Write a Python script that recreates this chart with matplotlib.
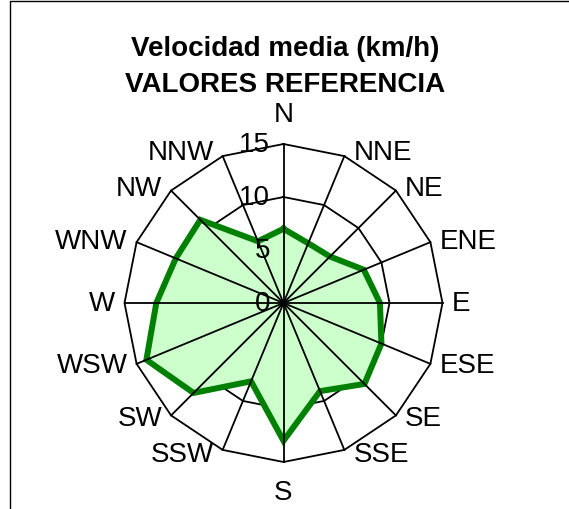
import numpy as np
import matplotlib
matplotlib.use("Agg")
import matplotlib.pyplot as plt
from matplotlib.patches import Rectangle
from matplotlib.transforms import offset_copy

directions = ["N", "NNE", "NE", "ENE", "E", "ESE", "SE", "SSE",
              "S", "SSW", "SW", "WSW", "W", "WNW", "NW", "NNW"]
speeds = [7.0, 6.1, 6.2, 8.2, 9.1, 10.0, 10.8, 9.0,
          13.0, 8.0, 12.0, 14.0, 12.0, 11.0, 11.1, 6.3]
radial_ticks = [0, 5, 10, 15]
title_lines = ["Velocidad media (km/h)", "VALORES REFERENCIA"]

plt.rcParams['font.family'] = ['Liberation Sans', 'DejaVu Sans']

W, H = 569, 510
fig = plt.figure(figsize=(W / 100, H / 100), dpi=100)

# frame border (left/top visible)
fig.patches.append(Rectangle((10 / W, -0.2), 1.5, 1.2 - 2 / H, transform=fig.transFigure,
                             fill=False, edgecolor='black', linewidth=1.0, zorder=0))

cx, cy, R = 283.5, 304, 159
ax = fig.add_axes([(cx - R) / W, (H - cy - R) / H, 2 * R / W, 2 * R / H], projection='polar')
ax.set_theta_zero_location('N')
ax.set_theta_direction(-1)
ax.set_ylim(0, 15)
ax.grid(False)
ax.spines['polar'].set_visible(False)
ax.set_xticks([])
ax.set_yticks([])
ax.patch.set_alpha(0)

n = len(directions)
angles = np.arange(n) * 2 * np.pi / n
closed_a = np.append(angles, angles[0])

# rings
for r in radial_ticks[1:]:
    ax.plot(closed_a, [r] * (n + 1), color='black', lw=1.3, zorder=1, clip_on=False)

# data
vals = np.append(speeds, speeds[0])
ax.fill(closed_a, vals, color='#ccffcc', zorder=2)
ax.plot(closed_a, vals, color='#008000', lw=4.3, zorder=3, solid_joinstyle='miter')

# spokes
for a in angles:
    ax.plot([a, a], [0, radial_ticks[-1]], color='black', lw=1.3, zorder=4, clip_on=False)

# radial labels
tr = offset_copy(ax.transData, fig=fig, x=-13.5, y=0, units='dots')
for r in radial_ticks:
    ax.text(0, r, str(r), transform=tr, ha='right', va='center', fontsize=20, zorder=5)

# direction labels
rmax = radial_ticks[-1]
for a, lab in zip(angles, directions):
    s, c = np.sin(a), np.cos(a)
    if abs(s) < 0.1:
        dx, dy = 0, 17 * np.sign(c)
        ha = 'center'
        va = 'bottom' if c > 0 else 'top'
    else:
        dx = 9 * np.sign(s)
        dy = 4 * c
        ha = 'left' if s > 0 else 'right'
        va = 'center'
    t = offset_copy(ax.transData, fig=fig, x=dx, y=dy, units='dots')
    ax.text(a, rmax, lab, transform=t, ha=ha, va=va, fontsize=20)

fig.text(285 / W, 1 - 49 / H, title_lines[0], ha='center', va='center', fontsize=20, fontweight='bold')
fig.text(285 / W, 1 - 85 / H, title_lines[1], ha='center', va='center', fontsize=20, fontweight='bold')

fig.savefig("out.png", dpi=100)
